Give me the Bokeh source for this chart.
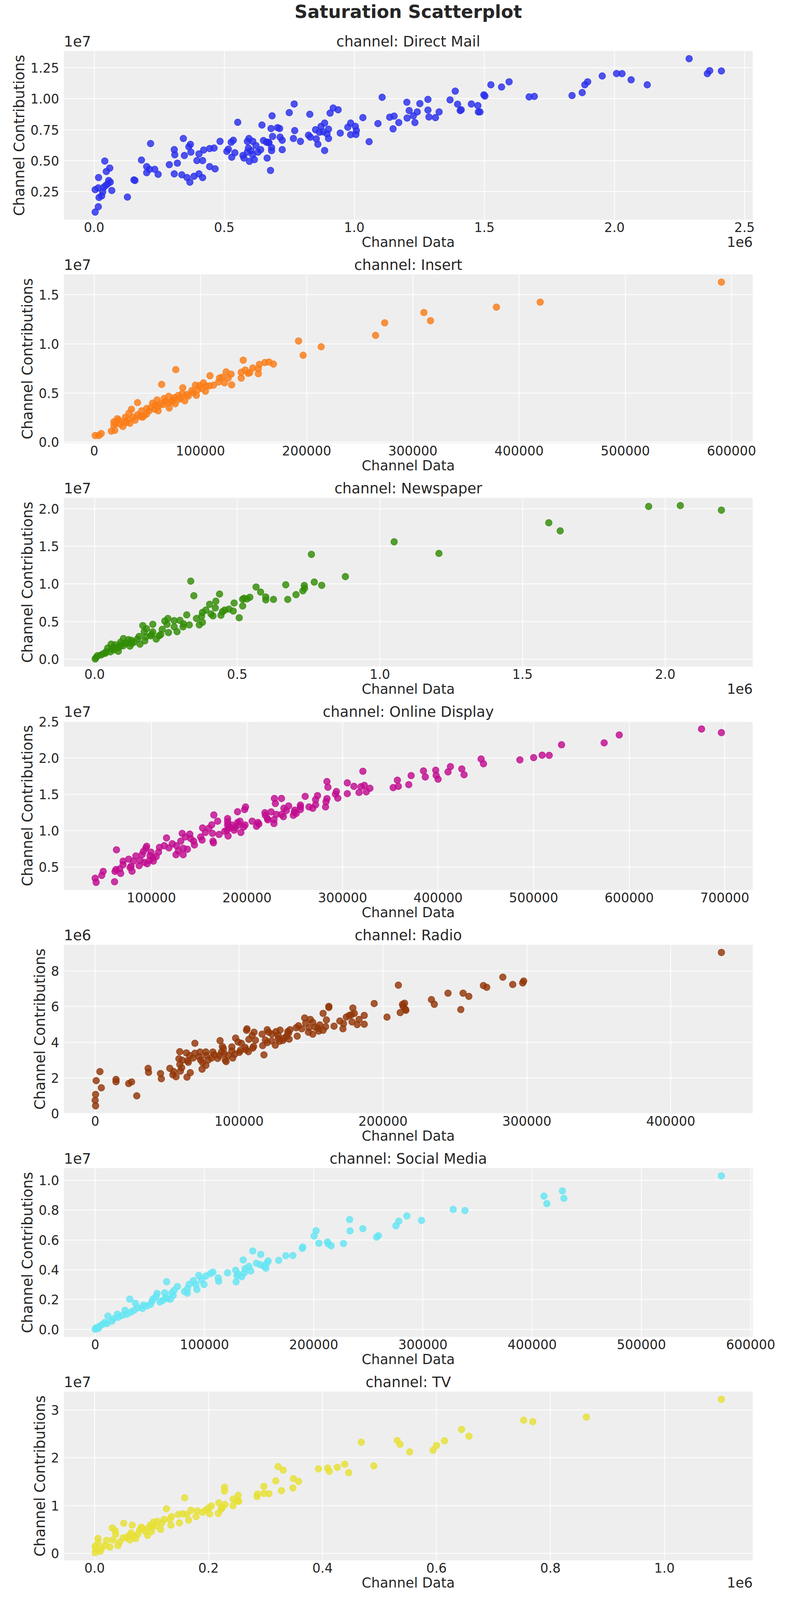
import numpy as np
from bokeh.plotting import figure
from bokeh.models import Range1d, FixedTicker, CustomJSTickFormatter, LinearAxis, Title
from bokeh.layouts import column
from bokeh.embed import file_html
from bokeh.resources import INLINE

FONT = "DejaVu Sans"
TXT = "#262626"

# ---------------- data ----------------
channels = ["Direct Mail", "Insert", "Newspaper", "Online Display", "Radio", "Social Media", "TV"]
colors = ["#2a2eec", "#fa7c17", "#328c06", "#c10c90", "#933708", "#65e5f3", "#e6e135"]

# Direct Mail: x in 1e6, y in 1e7
dm_x = [0.004,0.016,0.019,0.029,0.004,0.016,0.033,0.037,0.045,0.052,
        0.056,0.062,0.068,0.017,0.047,0.060,0.041,0.128,0.153,0.157,
        0.182,0.202,0.202,0.213,0.217,0.233,0.246,0.289,0.308,0.310,
        0.308,0.320,0.337,0.343,0.347,0.357,0.364,0.370,0.372,0.368,
        0.384,0.395,0.403,0.403,0.417,0.417,0.421,0.444,0.444,0.461,
        0.465,0.484,0.510,0.516,0.527,0.529,0.535,0.541,0.552,0.572,
        0.576,0.589,0.589,0.595,0.593,0.597,0.603,0.609,0.610,0.616,
        0.622,0.630,0.640,0.645,0.651,0.663,0.665,0.669,0.672,0.678,
        0.680,0.682,0.682,0.684,0.686,0.705,0.713,0.715,0.723,0.723,
        0.750,0.766,0.769,0.771,0.793,0.824,0.829,0.831,0.851,0.854,
        0.860,0.866,0.872,0.880,0.886,0.886,0.895,0.901,0.901,0.907,
        0.919,0.938,0.946,0.975,0.986,0.986,1.004,1.006,1.008,1.033,
        1.057,1.091,1.107,1.136,1.149,1.153,1.171,1.202,1.203,1.211,
        1.227,1.233,1.242,1.252,1.283,1.283,1.287,1.312,1.326,1.368,
        1.388,1.397,1.407,1.411,1.450,1.475,1.477,1.483,1.498,1.502,
        1.525,1.566,1.595,1.672,1.692,1.837,1.876,1.886,1.897,1.953,
        2.008,2.029,2.064,2.126,2.287,2.357,2.366,2.411]
dm_y = [0.085,0.128,0.203,0.216,0.266,0.280,0.249,0.286,0.300,0.313,
        0.340,0.327,0.259,0.364,0.413,0.440,0.497,0.206,0.345,0.340,
        0.505,0.452,0.403,0.430,0.638,0.430,0.390,0.468,0.589,0.548,
        0.394,0.480,0.386,0.679,0.542,0.364,0.612,0.632,0.569,0.327,
        0.374,0.501,0.555,0.394,0.501,0.363,0.586,0.598,0.452,0.602,
        0.434,0.656,0.575,0.593,0.649,0.528,0.665,0.564,0.810,0.542,
        0.521,0.569,0.656,0.679,0.602,0.495,0.581,0.548,0.656,0.508,
        0.622,0.569,0.589,0.788,0.663,0.649,0.521,0.649,0.645,0.421,
        0.760,0.606,0.581,0.862,0.696,0.767,0.760,0.690,0.665,0.589,
        0.888,0.679,0.958,0.743,0.656,0.706,0.875,0.690,0.750,0.676,
        0.633,0.730,0.777,0.733,0.804,0.582,0.717,0.754,0.679,0.884,
        0.925,0.911,0.723,0.770,0.804,0.710,0.777,0.712,0.743,0.848,
        0.653,0.800,1.012,0.851,0.757,0.860,0.808,0.972,0.844,0.905,
        0.862,0.808,0.894,0.961,0.995,0.909,0.853,0.848,0.894,0.991,
        1.062,0.956,0.905,0.911,0.958,0.945,0.894,0.894,1.032,1.022,
        1.113,1.095,1.137,1.015,1.019,1.026,1.050,1.113,1.137,1.184,
        1.204,1.203,1.153,1.113,1.324,1.203,1.227,1.224]

# Insert: x raw, y in 1e7
ins_x = [590500,419900,378700,310400,316600,273500,264900,192400,213700,196700,
         140300,168700,164500,160700,155500,149300,154500,142200,138400,145000,
         154500,146400,138400,124200,128900,126100,120400,122700,129400,117100,
         109000,112300,105200,102800,99100,95300,104700,97600,93400,96200,
         88600,83400,76800,63500,79100,75400,70100,85300,80100,73000,
         76300,69700,64900,70600,60200,55000,56900,60200,51700,49300,
         44500,45500,40800,40800,35100,36500,32700,31800,33600,28000,
         27000,23200,21800,19900,18500,18500,16100,19400,6600,4300,
         900,24200,30300,38400,46900,53100,57300,62100,66800,74100,
         81500,87200,91900,118000,29400,43100,49300,59200,65900,82900,
         101400,108500]
ins_y = [1.630,1.426,1.375,1.320,1.237,1.215,1.087,1.030,0.971,0.884,
         0.835,0.795,0.816,0.811,0.792,0.755,0.747,0.734,0.711,0.700,
         0.696,0.707,0.652,0.715,0.692,0.652,0.660,0.604,0.583,0.612,
         0.676,0.580,0.572,0.604,0.576,0.580,0.517,0.533,0.501,0.477,
         0.469,0.553,0.738,0.588,0.474,0.453,0.466,0.421,0.437,0.413,
         0.390,0.397,0.382,0.347,0.362,0.397,0.334,0.318,0.318,0.286,
         0.318,0.254,0.402,0.278,0.334,0.254,0.294,0.231,0.191,0.207,
         0.159,0.223,0.238,0.191,0.207,0.167,0.111,0.119,0.087,0.067,
         0.067,0.183,0.199,0.223,0.270,0.350,0.374,0.390,0.413,0.429,
         0.453,0.485,0.525,0.652,0.254,0.262,0.342,0.429,0.445,0.493,
         0.548,0.572]

# Newspaper: x in 1e6, y in 1e7
np_x = [1.942,2.053,2.197,1.592,1.632,1.050,0.760,1.207,0.879,0.337,
        0.770,0.796,0.670,0.735,0.736,0.730,0.566,0.582,0.706,0.438,
        0.348,0.600,0.600,0.627,0.677,0.544,0.524,0.519,0.534,0.425,
        0.489,0.403,0.423,0.519,0.390,0.486,0.471,0.456,0.448,0.443,
        0.408,0.415,0.378,0.375,0.323,0.507,0.357,0.378,0.367,0.332,
        0.299,0.312,0.310,0.279,0.257,0.246,0.254,0.279,0.289,0.259,
        0.237,0.204,0.169,0.182,0.174,0.204,0.196,0.216,0.226,0.232,
        0.156,0.176,0.159,0.138,0.119,0.101,0.124,0.109,0.091,0.088,
        0.071,0.058,0.046,0.066,0.083,0.055,0.038,0.022,0.010,0.005,
        0.002,0.030,0.080,0.129,0.060,0.070,0.090,0.110,0.130,0.150,
        0.180,0.200,0.040,0.100]
np_y = [2.029,2.041,1.980,1.812,1.705,1.560,1.393,1.405,1.098,1.037,
        1.025,0.982,0.989,0.980,0.943,0.909,0.960,0.892,0.858,0.866,
        0.844,0.827,0.789,0.795,0.795,0.824,0.810,0.798,0.801,0.772,
        0.747,0.730,0.682,0.708,0.653,0.641,0.667,0.653,0.631,0.585,
        0.602,0.576,0.622,0.571,0.590,0.551,0.542,0.491,0.457,0.457,
        0.517,0.471,0.431,0.513,0.542,0.508,0.465,0.431,0.367,0.355,
        0.397,0.465,0.448,0.406,0.367,0.363,0.312,0.269,0.312,0.329,
        0.304,0.244,0.201,0.227,0.261,0.275,0.176,0.210,0.227,0.167,
        0.193,0.201,0.150,0.124,0.107,0.099,0.082,0.056,0.048,0.022,
        0.005,0.073,0.150,0.252,0.140,0.160,0.190,0.220,0.210,0.270,
        0.300,0.330,0.100,0.180]

# Online Display: x raw, y in 1e7
od_x = [675700,696500,589600,573800,529200,516300,508900,500000,485600,445000,
        447500,412900,424800,384700,397500,410400,427200,371800,386600,398000,
        400000,321300,357400,358400,369300,353000,283700,284700,305000,311900,
        319300,322800,328700,317300,324800,305000,293600,292600,295000,273800,
        260900,283700,282700,271800,271800,282200,264900,268800,255900,255900,
        250000,249500,255900,248500,251500,228700,236100,229700,243600,238600,
        241100,225200,230700,236100,238100,218800,219300,221300,228200,228200,
        221800,198500,197500,190100,205400,211400,212400,210000,198000,196500,
        192600,190100,191100,193600,187600,186600,184200,182700,179700,179700,
        179700,180700,179200,180200,176700,165300,169300,163100,160100,153500,
        156400,163900,170800,151500,153000,164400,164900,132200,135600,140100,
        141100,144100,145000,130700,115800,121800,113400,118300,126200,128200,
        133200,137600,125700,133200,108400,107400,99500,95000,94100,91600,
        90100,104900,101500,98500,98000,102000,95500,92600,88100,87100,
        83700,76200,81200,78700,77700,79700,70300,70300,66800,67800,
        63400,62900,61900,61400,49500,48000,41100,42100]
od_y = [2.402,2.352,2.319,2.210,2.184,2.038,2.041,2.007,1.976,1.988,
        1.922,1.883,1.851,1.824,1.833,1.810,1.771,1.759,1.741,1.762,
        1.709,1.819,1.696,1.611,1.634,1.593,1.677,1.599,1.659,1.611,
        1.606,1.625,1.584,1.526,1.536,1.510,1.540,1.504,1.448,1.483,
        1.472,1.442,1.398,1.428,1.357,1.327,1.327,1.309,1.353,1.330,
        1.282,1.256,1.291,1.211,1.238,1.444,1.444,1.375,1.341,1.309,
        1.277,1.259,1.224,1.224,1.193,1.247,1.211,1.167,1.152,1.099,
        1.149,1.327,1.291,1.261,1.131,1.113,1.092,1.060,1.078,1.051,
        1.131,1.113,1.078,0.975,1.042,1.007,1.078,1.042,1.167,1.122,
        1.078,1.042,1.007,0.927,0.992,1.216,1.131,1.081,1.033,1.037,
        0.975,0.962,0.948,0.912,0.870,0.856,0.832,0.962,0.914,0.953,
        0.891,0.856,0.803,0.856,0.900,0.820,0.793,0.763,0.793,0.722,
        0.758,0.744,0.669,0.669,0.770,0.704,0.704,0.784,0.758,0.713,
        0.669,0.642,0.624,0.655,0.589,0.580,0.544,0.562,0.589,0.518,
        0.651,0.607,0.580,0.509,0.491,0.441,0.580,0.530,0.473,0.411,
        0.736,0.464,0.438,0.296,0.438,0.384,0.344,0.287]

# Radio: x raw, y in 1e6
ra_x = [435200,283300,297800,297100,290200,269800,272100,210700,245200,255700,
        259700,233700,235700,193900,215000,213600,214000,215600,215900,254100,
        162400,162400,179100,212000,202800,158400,187000,180100,178100,176500,
        174500,183400,160700,145600,149500,170000,178500,172600,187000,182100,
        156100,151200,146300,141300,139700,143600,148600,152800,154800,160100,
        166000,172200,158400,155400,148200,151200,140400,135400,133800,134400,
        128500,125600,122900,119600,120600,127200,133100,134800,130500,131200,
        127200,128200,122600,119600,118300,116000,110400,109100,105500,105200,
        106800,111400,97600,99300,101600,86800,116400,125200,110100,109500,
        104200,104800,106500,100900,100200,117300,95000,95000,97000,95600,
        92400,88400,89100,87800,89700,86400,85100,90400,91000,81800,
        82800,80900,78600,76900,77200,72900,72300,73300,74600,76900,
        74300,69300,69300,65700,63400,68000,64100,64700,58800,58200,
        60500,58800,60100,59200,66100,63800,54600,54000,56200,51900,
        36800,37100,45400,46000,3300,700,4300,14500,14500,23300,
        25300,28900,300,0,300]
ra_y = [9.04,7.65,7.43,7.33,7.24,7.18,7.08,7.20,6.75,6.75,
        6.57,6.39,6.13,6.17,6.19,6.12,6.01,5.85,5.79,5.83,
        6.01,5.95,5.92,5.66,5.41,5.62,5.50,5.62,5.54,5.50,
        5.41,5.28,5.25,5.36,5.28,5.19,5.14,5.04,5.01,4.99,
        4.97,5.12,5.07,4.92,4.81,4.75,4.81,4.85,4.78,4.87,
        4.90,4.75,4.67,4.62,4.56,4.45,4.34,4.70,4.59,4.52,
        4.68,4.59,4.45,4.70,4.56,4.38,4.34,4.17,4.10,4.23,
        4.20,4.05,4.07,3.98,4.12,4.45,4.56,4.38,4.75,4.67,
        4.16,4.11,4.23,4.01,3.94,4.09,3.81,3.83,3.76,3.67,
        3.71,3.58,3.47,3.54,3.43,3.29,3.74,3.51,3.33,3.11,
        3.25,3.76,3.65,3.45,3.36,3.25,3.09,3.00,2.91,3.45,
        3.30,3.11,3.00,3.45,3.25,3.45,3.18,3.00,2.86,2.70,
        2.49,3.94,3.38,3.25,3.40,3.11,2.96,2.87,3.47,3.07,
        2.99,2.75,2.57,2.38,2.29,2.04,2.35,2.17,2.06,2.53,
        2.53,2.31,2.24,1.95,2.35,1.84,1.44,1.91,1.78,1.68,
        1.77,0.99,1.07,0.74,0.43]

# Social Media: x raw, y in 1e7
sm_x = [573200,427700,429000,410800,413400,327700,338500,285300,298700,277900,
        275300,232900,233300,245000,257600,259300,202200,200400,204800,212600,
        213400,216000,227300,190000,189600,181000,174500,168000,144200,151500,
        158400,157100,154500,156300,135500,147600,151100,140700,137200,142400,
        136400,128600,130700,134200,129900,121200,129000,107800,105600,112600,
        113000,101300,94800,97400,99600,90000,92200,93100,86100,84400,
        81800,84400,75300,65400,72300,70100,71400,68800,63600,64500,
        61500,56700,55800,53200,51900,50600,47200,43300,36800,31600,
        39000,35500,32500,27300,29000,24700,21200,16900,11700,15200,
        10800,6500,3900,900,0,3000,59300,65800,44200,20300,
        8700]
sm_y = [1.030,0.929,0.879,0.894,0.844,0.805,0.797,0.761,0.731,0.726,
        0.695,0.737,0.661,0.676,0.619,0.629,0.662,0.626,0.578,0.587,
        0.574,0.561,0.576,0.552,0.544,0.496,0.494,0.463,0.526,0.503,
        0.459,0.444,0.423,0.410,0.466,0.444,0.434,0.423,0.408,0.392,
        0.379,0.397,0.371,0.353,0.359,0.379,0.319,0.384,0.375,0.345,
        0.323,0.358,0.362,0.332,0.301,0.327,0.301,0.268,0.303,0.273,
        0.254,0.243,0.288,0.320,0.262,0.245,0.228,0.202,0.245,0.215,
        0.193,0.241,0.221,0.206,0.189,0.167,0.158,0.141,0.176,0.203,
        0.145,0.128,0.115,0.128,0.102,0.094,0.081,0.072,0.089,0.055,
        0.039,0.033,0.020,0.011,0.001,0.007,0.184,0.206,0.163,0.102,
        0.046]

# TV: x in 1e6, y in 1e7
tv_x = [1.100,0.863,0.753,0.769,0.644,0.657,0.468,0.531,0.536,0.553,
        0.614,0.600,0.594,0.490,0.439,0.426,0.409,0.412,0.393,0.446,
        0.322,0.331,0.349,0.358,0.318,0.348,0.297,0.328,0.228,0.228,
        0.306,0.297,0.286,0.285,0.252,0.243,0.251,0.253,0.158,0.243,
        0.229,0.224,0.218,0.222,0.217,0.205,0.200,0.195,0.202,0.189,
        0.180,0.178,0.169,0.162,0.165,0.155,0.147,0.149,0.135,0.132,
        0.126,0.134,0.122,0.118,0.116,0.110,0.108,0.103,0.101,0.098,
        0.100,0.089,0.093,0.082,0.079,0.076,0.072,0.066,0.064,0.062,
        0.060,0.051,0.050,0.044,0.041,0.037,0.036,0.031,0.032,0.027,
        0.021,0.018,0.012,0.010,0.006,0.006,0.001,0.001,0.002,0.056,
        0.068,0.085,0.096]
tv_y = [3.222,2.849,2.784,2.754,2.591,2.449,2.325,2.360,2.280,2.123,
        2.354,2.256,2.156,1.830,1.866,1.800,1.783,1.717,1.768,1.688,
        1.815,1.741,1.563,1.504,1.516,1.368,1.401,1.312,1.383,1.303,
        1.250,1.253,1.241,1.190,1.214,1.134,1.105,1.087,1.164,0.998,
        1.022,0.962,1.057,0.924,0.835,0.992,0.948,0.903,0.826,0.859,
        0.888,0.770,0.903,0.814,0.696,0.829,0.814,0.637,0.770,0.711,
        0.933,0.592,0.711,0.637,0.503,0.672,0.577,0.651,0.563,0.592,
        0.459,0.459,0.376,0.548,0.489,0.400,0.311,0.592,0.429,0.281,
        0.370,0.631,0.326,0.237,0.163,0.400,0.474,0.533,0.281,0.133,
        0.272,0.163,0.104,0.044,0.311,0.222,0.148,0.015,0.089,0.326,
        0.376,0.518,0.548]

# units of the arrays above (x unit, y unit)
units = [(1e6, 1e7), (1, 1e7), (1e6, 1e7), (1, 1e7), (1, 1e6), (1, 1e7), (1e6, 1e7)]
xs = [dm_x, ins_x, np_x, od_x, ra_x, sm_x, tv_x]
ys = [dm_y, ins_y, np_y, od_y, ra_y, sm_y, tv_y]

# tick positions (in tick-label units), tick scaling, decimals, offset texts
x_ticks = [[0.0, 0.5, 1.0, 1.5, 2.0, 2.5],
           [0, 100000, 200000, 300000, 400000, 500000, 600000],
           [0.0, 0.5, 1.0, 1.5, 2.0],
           [100000, 200000, 300000, 400000, 500000, 600000, 700000],
           [0, 100000, 200000, 300000, 400000],
           [0, 100000, 200000, 300000, 400000, 500000, 600000],
           [0.0, 0.2, 0.4, 0.6, 0.8, 1.0]]
x_tick_scale = [1e6, 1, 1e6, 1, 1, 1, 1e6]
x_digits = [1, 0, 1, 0, 0, 0, 1]
x_offset_text = ["1e6", None, "1e6", None, None, None, "1e6"]
y_ticks = [[0.25, 0.50, 0.75, 1.00, 1.25],
           [0.0, 0.5, 1.0, 1.5],
           [0.0, 0.5, 1.0, 1.5, 2.0],
           [0.5, 1.0, 1.5, 2.0, 2.5],
           [0, 2, 4, 6, 8],
           [0.0, 0.2, 0.4, 0.6, 0.8, 1.0],
           [0, 1, 2, 3]]
y_tick_scale = [1e7, 1e7, 1e7, 1e7, 1e6, 1e7, 1e7]
y_digits = [2, 1, 1, 1, 0, 1, 0]
y_offset_text = ["1e7", "1e7", "1e7", "1e7", "1e6", "1e7", "1e7"]

suptitle = "Saturation Scatterplot"
x_label = "Channel Data"
y_label = "Channel Contributions"

# ---------------- layout constants (pixels) ----------------
# the captured picture is only about 4100px tall, so the 7 panels are laid out to fit in it
FIG_W = 2000
BL, BR = 163, 73          # frame spans page x 171..1935
FRAME_W = FIG_W - BL - BR
FRAME_H = 432
TOP, BOTTOM = 50, 90
SUP_H = 80
TICK_FS, LABEL_FS, TOPROW_FS, BOTROW_FS, SUP_FS = "33px", "37px", "37px", "35px", "46px"
OFF_HALF_TOP, OFF_HALF_BOT = 35, 33   # half widths of the "1e7" / "1e6" texts


def padded(vals):
    lo, hi = float(np.min(vals)), float(np.max(vals))
    span = hi - lo
    return lo - 0.05 * span, hi + 0.05 * span


def fmt(scale, digits):
    return CustomJSTickFormatter(args=dict(s=scale, d=digits),
                                 code="return (tick / s).toFixed(d);")


def text_axis(side_ticks, side_labels, size, standoff):
    ax = LinearAxis(ticker=FixedTicker(ticks=side_ticks),
                    formatter=CustomJSTickFormatter(
                        args=dict(t=side_ticks, l=side_labels),
                        code="let b = 0; for (let k = 0; k < t.length; k++) {"
                             " if (Math.abs(t[k] - tick) < Math.abs(t[b] - tick)) b = k; }"
                             " return l[b];"))
    ax.axis_line_color = None
    ax.major_tick_line_color = None
    ax.minor_tick_line_color = None
    ax.major_tick_out = 0
    ax.major_tick_in = 0
    ax.major_label_standoff = standoff
    ax.major_label_text_font = FONT
    ax.major_label_text_font_size = size
    ax.major_label_text_color = TXT
    return ax


figs = []

# ---- suptitle strip ----
sup = figure(width=FIG_W, height=SUP_H, x_range=Range1d(0, 1), y_range=Range1d(0, 1),
             x_axis_location=None, y_axis_location=None,
             output_backend="svg", toolbar_location=None,
             min_border_left=0, min_border_right=0, min_border_top=0,
             min_border_bottom=SUP_H - 1)
sup.title.visible = False
sup.grid.visible = False
sup.outline_line_color = None
sup.background_fill_color = "white"
sup.border_fill_color = "white"
sup.add_layout(Title(text=suptitle, align="center", vertical_align="top", standoff=2,
                     text_font=FONT, text_font_size=SUP_FS, text_font_style="bold",
                     text_color=TXT), "below")
figs.append(sup)

for i, name in enumerate(channels):
    xu, yu = units[i]
    x = np.array(xs[i], dtype=float) * xu
    y = np.array(ys[i], dtype=float) * yu
    x0, x1 = padded(x)
    y0, y1 = padded(y)
    xm = (x0 + x1) / 2
    per_px = (x1 - x0) / FRAME_W

    p = figure(width=FIG_W, height=TOP + FRAME_H + BOTTOM,
               x_range=Range1d(x0, x1), y_range=Range1d(y0, y1),
               output_backend="svg", toolbar_location=None,
               min_border_left=BL, min_border_right=BR,
               min_border_top=TOP, min_border_bottom=BOTTOM)
    p.title.visible = False
    p.background_fill_color = "#eeeeee"
    p.border_fill_color = "white"
    p.outline_line_color = None

    p.xaxis.ticker = FixedTicker(ticks=[v * x_tick_scale[i] for v in x_ticks[i]])
    p.yaxis.ticker = FixedTicker(ticks=[v * y_tick_scale[i] for v in y_ticks[i]])
    p.xaxis.formatter = fmt(x_tick_scale[i], x_digits[i])
    p.yaxis.formatter = fmt(y_tick_scale[i], y_digits[i])
    p.yaxis.axis_label = y_label
    for ax in (p.xaxis, p.yaxis):
        ax.axis_line_color = None
        ax.major_tick_line_color = None
        ax.minor_tick_line_color = None
        ax.major_tick_out = 0
        ax.major_label_text_font = FONT
        ax.major_label_text_font_size = TICK_FS
        ax.major_label_text_color = TXT
        ax.axis_label_text_font = FONT
        ax.axis_label_text_font_size = LABEL_FS
        ax.axis_label_text_font_style = "normal"
        ax.axis_label_text_color = TXT
    p.xaxis.major_label_standoff = 6
    p.yaxis.major_label_standoff = 12
    p.yaxis.axis_label_standoff = 4

    p.xgrid.grid_line_color = "white"
    p.ygrid.grid_line_color = "white"
    p.xgrid.grid_line_width = 2
    p.ygrid.grid_line_width = 2

    p.scatter(x, y, size=17, marker="circle", fill_color=colors[i], line_color=colors[i],
              fill_alpha=0.82, line_alpha=0.82, line_width=1.5)

    # row above the frame: y offset text (left) and panel title (centre)
    top_ticks = [x0 + OFF_HALF_TOP * per_px, xm]
    top_labels = [y_offset_text[i], f"channel: {name}"]
    p.add_layout(text_axis(top_ticks, top_labels, TOPROW_FS, 3), "above")

    # row below the tick labels: x label (centre) and x offset text (right)
    bot_ticks = [xm]
    bot_labels = [x_label]
    if x_offset_text[i]:
        bot_ticks.append(x1 - OFF_HALF_BOT * per_px)
        bot_labels.append(x_offset_text[i])
    p.add_layout(text_axis(bot_ticks, bot_labels, BOTROW_FS, 3), "below")
    figs.append(p)

layout = column(*figs, spacing=0)
open("out.html", "w").write(file_html(layout, INLINE))
